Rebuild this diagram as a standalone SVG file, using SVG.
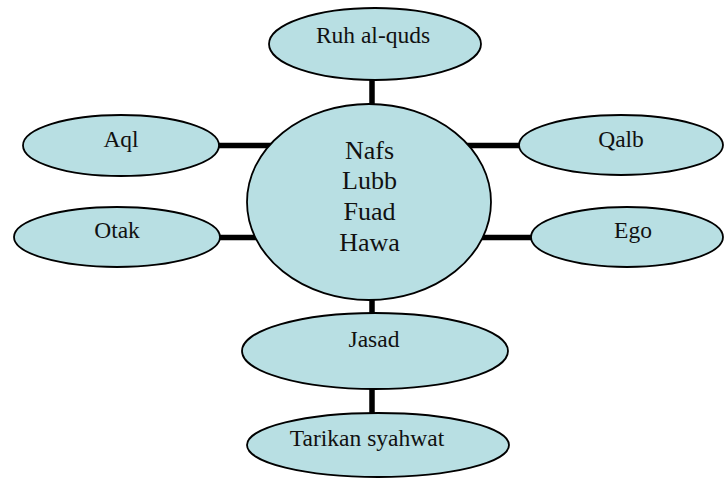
<svg xmlns="http://www.w3.org/2000/svg" width="724" height="482" viewBox="0 0 724 482">
<style>
.node ellipse { fill: #B8DFE3; stroke: #000; stroke-width: 1.8; }
.node text { font-family: "Liberation Serif", "Times New Roman", serif; font-size: 23.5px; fill: #111; text-anchor: middle; }
#center text { font-size: 26px; }
.conn line { stroke: #000; stroke-width: 5.5; }
</style>
<rect width="724" height="482" fill="#fff"/>
<g id="connectors" class="conn">
<line x1="218" y1="145.5" x2="300" y2="145.5"/>
<line x1="218" y1="237.5" x2="300" y2="237.5"/>
<line x1="440" y1="145.5" x2="521" y2="145.5"/>
<line x1="440" y1="237.5" x2="533" y2="237.5"/>
<line x1="372" y1="78" x2="372" y2="106"/>
<line x1="372" y1="298" x2="372" y2="315"/>
<line x1="372" y1="387" x2="372" y2="415"/>
</g>
<g id="ruh" class="node">
<ellipse cx="375" cy="44" rx="106" ry="36"/>
<text x="373" y="43">Ruh al-quds</text>
</g>
<g id="aql" class="node">
<ellipse cx="121" cy="145.5" rx="98" ry="30.5"/>
<text x="121" y="147">Aql</text>
</g>
<g id="otak" class="node">
<ellipse cx="117" cy="237" rx="103" ry="30"/>
<text x="117" y="237.5">Otak</text>
</g>
<g id="qalb" class="node">
<ellipse cx="621" cy="145" rx="102" ry="30"/>
<text x="621" y="147">Qalb</text>
</g>
<g id="ego" class="node">
<ellipse cx="627" cy="237" rx="96" ry="30"/>
<text x="633" y="237.5">Ego</text>
</g>
<g id="center" class="node">
<ellipse cx="369" cy="202" rx="122" ry="98"/>
<text x="369.5" y="158.5">Nafs</text>
<text x="369.5" y="189.3">Lubb</text>
<text x="369.5" y="220">Fuad</text>
<text x="369.5" y="250.5">Hawa</text>
</g>
<g id="jasad" class="node">
<ellipse cx="375" cy="351" rx="133" ry="38"/>
<text x="374" y="347">Jasad</text>
</g>
<g id="tarikan" class="node">
<ellipse cx="378" cy="445" rx="131" ry="32"/>
<text x="367" y="446">Tarikan syahwat</text>
</g>
</svg>
